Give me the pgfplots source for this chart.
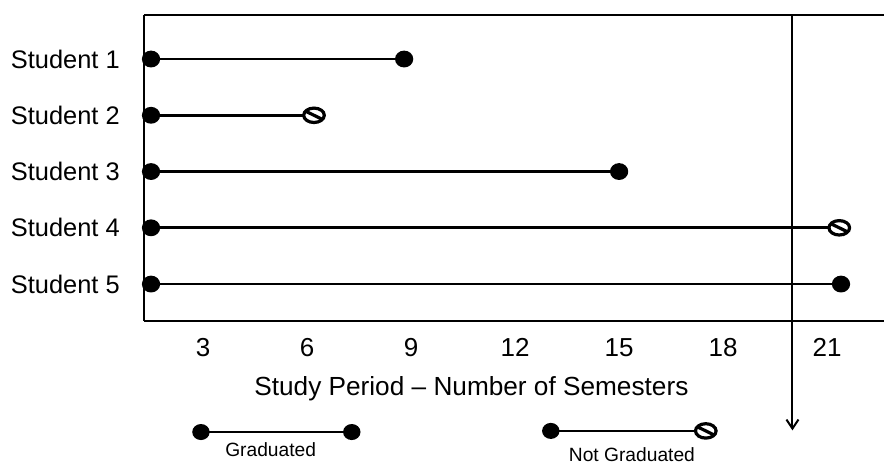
\documentclass[border=0pt]{standalone}
\usepackage{fontspec}
\setmainfont{Liberation Sans}
\usepackage{pgfplots}
\pgfplotsset{compat=1.18}
\usetikzlibrary{arrows.meta}

% circle with a slash: student who did not graduate
\pgfdeclareplotmark{nograd}{%
  \pgfpathellipse{\pgfpointorigin}{\pgfqpoint{1.43\pgfplotmarksize}{0pt}}{\pgfqpoint{0pt}{\pgfplotmarksize}}%
  \pgfusepathqfillstroke
  \pgfpathmoveto{\pgfqpoint{-1.17\pgfplotmarksize}{0.57\pgfplotmarksize}}%
  \pgfpathlineto{\pgfqpoint{1.17\pgfplotmarksize}{-0.57\pgfplotmarksize}}%
  \pgfusepathqstroke
}

\begin{document}
\begin{tikzpicture}
\begin{axis}[
  x=17.333pt, y=28.125pt, y dir=reverse,
  xmin=1.298, xmax=22.64, ymin=0.218, ymax=5.658,
  axis x line=box, axis y line=left,
  axis line style={line width=1pt, -},
  major tick length=0pt,
  xtick={3,6,...,21},
  ytick={1,2,3,4,5},
  yticklabels={Student 1,Student 2,Student 3,Student 4,Student 5},
  /pgf/number format/assume math mode=true,
  xticklabel style={font=\fontsize{13}{15}\selectfont, yshift=-5pt},
  yticklabel style={font=\fontsize{12.7}{15}\selectfont, xshift=-8.6pt},
  xlabel={Study Period -- Number of Semesters},
  xlabel style={font=\fontsize{13.1}{15}\selectfont, at={(axis description cs:0.4424,-0.2418)}, anchor=base},
  clip=false,
  grad/.style={black, line width=1.4pt, mark=*, mark size=3.5pt, mark options={solid, xscale=1.1}},
  gradstart/.style={grad, mark indices={1}},
  ngmark/.style={black, only marks, mark=nograd, mark size=3.6pt, mark options={solid, line width=1.6pt, fill=white}},
]
% students
\addplot[grad] coordinates {(1.5,1) (8.8,1)};
\addplot[gradstart] coordinates {(1.5,2) (6.2,2)};
\addplot[ngmark] coordinates {(6.2,2)};
\addplot[grad] coordinates {(1.5,3) (15,3)};
\addplot[gradstart] coordinates {(1.5,4) (21.35,4)};
\addplot[ngmark] coordinates {(21.35,4)};
\addplot[grad] coordinates {(1.5,5) (21.4,5)};

% cut-off at 20 semesters
\addplot[black, line width=1pt, -{Straight Barb[length=4.5pt, width=6pt]}] coordinates {(20,0.218) (20,7.6)};

% key below the axis
\addplot[grad, line width=1pt] coordinates {(2.94,7.63) (7.29,7.63)};
\addplot[gradstart, line width=1pt] coordinates {(13.03,7.61) (17.5,7.61)};
\addplot[ngmark] coordinates {(17.5,7.61)};
\node[anchor=base, font=\fontsize{9.6}{11}\selectfont] at (axis cs:4.95,8.07) {Graduated};
\node[anchor=base, font=\fontsize{9.6}{11}\selectfont] at (axis cs:15.37,8.16) {Not Graduated};

\coordinate (bbA) at (axis cs:-2.856,-0.049);
\coordinate (bbB) at (axis cs:22.64,8.236);
\end{axis}
\pgfresetboundingbox
\path (bbA) rectangle (bbB);
\end{tikzpicture}
\end{document}
